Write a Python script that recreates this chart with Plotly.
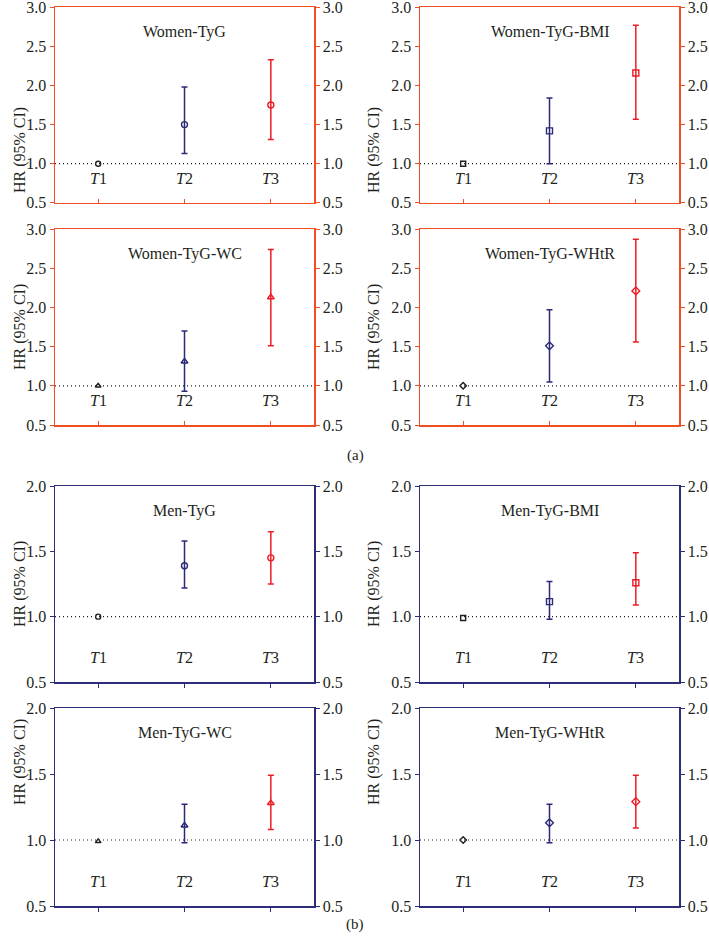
import plotly.graph_objects as go

panels = ["Women-TyG", "Women-TyG-BMI", "Women-TyG-WC", "Women-TyG-WHtR",
          "Men-TyG", "Men-TyG-BMI", "Men-TyG-WC", "Men-TyG-WHtR"]
tertiles = ["T1", "T2", "T3"]
hr = [[1.00, 1.50, 1.75], [1.00, 1.42, 2.16], [1.00, 1.31, 2.13], [1.00, 1.51, 2.21],
      [1.00, 1.39, 1.45], [0.99, 1.115, 1.26], [0.99, 1.11, 1.28], [1.00, 1.13, 1.29]]
lo = [[1.00, 1.13, 1.31], [1.00, 1.00, 1.57], [1.00, 0.93, 1.51], [1.00, 1.05, 1.56],
      [1.00, 1.22, 1.25], [0.99, 0.98, 1.09], [0.99, 0.98, 1.08], [1.00, 0.98, 1.09]]
hi = [[1.00, 1.98, 2.33], [1.00, 1.84, 2.77], [1.00, 1.70, 2.74], [1.00, 1.97, 2.87],
      [1.00, 1.58, 1.65], [0.99, 1.27, 1.49], [0.99, 1.27, 1.49], [1.00, 1.27, 1.49]]
symbols = ["circle-open", "square-open", "triangle-up-open", "diamond-open"] * 2
women_ticks = [0.5, 1.0, 1.5, 2.0, 2.5, 3.0]
men_ticks = [0.5, 1.0, 1.5, 2.0]

TXT = "#231F20"
WOMEN_AX = "#F04E23"
MEN_AX = "#2D2D7A"
T_COLORS = ["#231F20", "#2B2A77", "#ED1C24"]
FONT = "Liberation Serif"

W, H = 709, 944
xdom = [[55 / W, 314 / W], [420 / W, 679 / W]]
ydom = [[1 - 202.8 / H, 1 - 7.3 / H], [1 - 425 / H, 1 - 229 / H],
        [1 - 682 / H, 1 - 486 / H], [1 - 906 / H, 1 - 708 / H]]

fig = go.Figure()
layout = dict(width=W, height=H, margin=dict(l=0, r=0, t=0, b=0, pad=0),
              paper_bgcolor="white", plot_bgcolor="white", showlegend=False,
              font=dict(family=FONT, size=16, color=TXT))
annotations = []
shapes = []

for i, name in enumerate(panels):
    n = i + 1
    women = i < 4
    row, col = i // 2, i % 2
    axc = WOMEN_AX if women else MEN_AX
    ticks = women_ticks if women else men_ticks
    rng = [0.5, 3.0] if women else [0.5, 2.0]
    xa = "x" if n == 1 else f"x{n}"
    ya = "y" if n == 1 else f"y{n}"
    yr = f"y{n + 8}"
    layout["xaxis" if n == 1 else f"xaxis{n}"] = dict(
        domain=xdom[col], anchor=ya, range=[0.5, 3.5], tickvals=[1, 2, 3],
        ticktext=["", "", ""], ticks="inside" if women else "outside", ticklen=4,
        tickcolor=axc, showline=True, linecolor=axc, linewidth=1.5, mirror=True,
        showgrid=False, zeroline=False, fixedrange=True, automargin=False)
    common_y = dict(
        domain=ydom[row], anchor=xa, range=rng, tickvals=ticks,
        ticktext=[f"{t:.1f}" for t in ticks], ticks="outside", ticklen=4,
        tickcolor=axc, showline=True, linecolor=axc, linewidth=1.5,
        showgrid=False, zeroline=False, tickfont=dict(size=16, color=TXT),
        automargin=False, ticklabeloverflow="allow", fixedrange=True)
    layout["yaxis" if n == 1 else f"yaxis{n}"] = dict(common_y)
    layout[f"yaxis{n + 8}"] = dict(common_y, overlaying=ya, side="right")

    for k in range(3):
        fig.add_trace(go.Scatter(
            x=[k + 1], y=[hr[i][k]], mode="markers", xaxis=xa, yaxis=ya,
            marker=dict(symbol=symbols[i], size=6 if k else 5, color=T_COLORS[k],
                        line=dict(width=1.4, color=T_COLORS[k])),
            error_y=dict(type="data", symmetric=False,
                         array=[hi[i][k] - hr[i][k]],
                         arrayminus=[hr[i][k] - lo[i][k]],
                         color=T_COLORS[k], thickness=1.5, width=3,
                         visible=k > 0),
            hoverinfo="skip"))
    # invisible trace so the right-hand axis is rendered
    fig.add_trace(go.Scatter(x=[1], y=[1], mode="markers", xaxis=xa, yaxis=yr,
                             marker=dict(opacity=0), hoverinfo="skip"))
    shapes.append(dict(type="line", xref=xa, yref=ya, x0=0.5, x1=3.5, y0=1, y1=1,
                       line=dict(color=TXT, width=1.2, dash="1px,3px"),
                       layer="below"))
    annotations.append(dict(text=name, xref=f"{xa} domain", yref=f"{ya} domain",
                            x=0.5, y=0.93, showarrow=False,
                            font=dict(size=16, color=TXT, family=FONT)))
    for k, t in enumerate(tertiles):
        annotations.append(dict(text=f"<i>{t[0]}</i>{t[1:]}", xref=xa,
                                yref=f"{ya} domain", x=k + 1, y=0.073,
                                showarrow=False,
                                font=dict(size=16, color=TXT, family=FONT)))
    xc = xdom[col][0] - 46 / W
    yc = (ydom[row][0] + ydom[row][1]) / 2
    annotations.append(dict(text="HR (95% CI)", xref="paper", yref="paper",
                            x=xc, y=yc, textangle=-90, showarrow=False,
                            font=dict(size=16, color=TXT, family=FONT)))

annotations.append(dict(text="(a)", xref="paper", yref="paper", x=355 / W,
                        y=1 - 455 / H, showarrow=False,
                        font=dict(size=15, color=TXT, family=FONT)))
annotations.append(dict(text="(b)", xref="paper", yref="paper", x=355 / W,
                        y=1 - 935 / H, showarrow=False,
                        font=dict(size=15, color=TXT, family=FONT)))

layout["annotations"] = annotations
layout["shapes"] = shapes
fig.update_layout(**layout)
fig.write_html("out.html",
               config={"displayModeBar": False, "staticPlot": True},
               post_script="document.body.style.margin='0';"
                           "document.body.style.overflow='hidden';")
